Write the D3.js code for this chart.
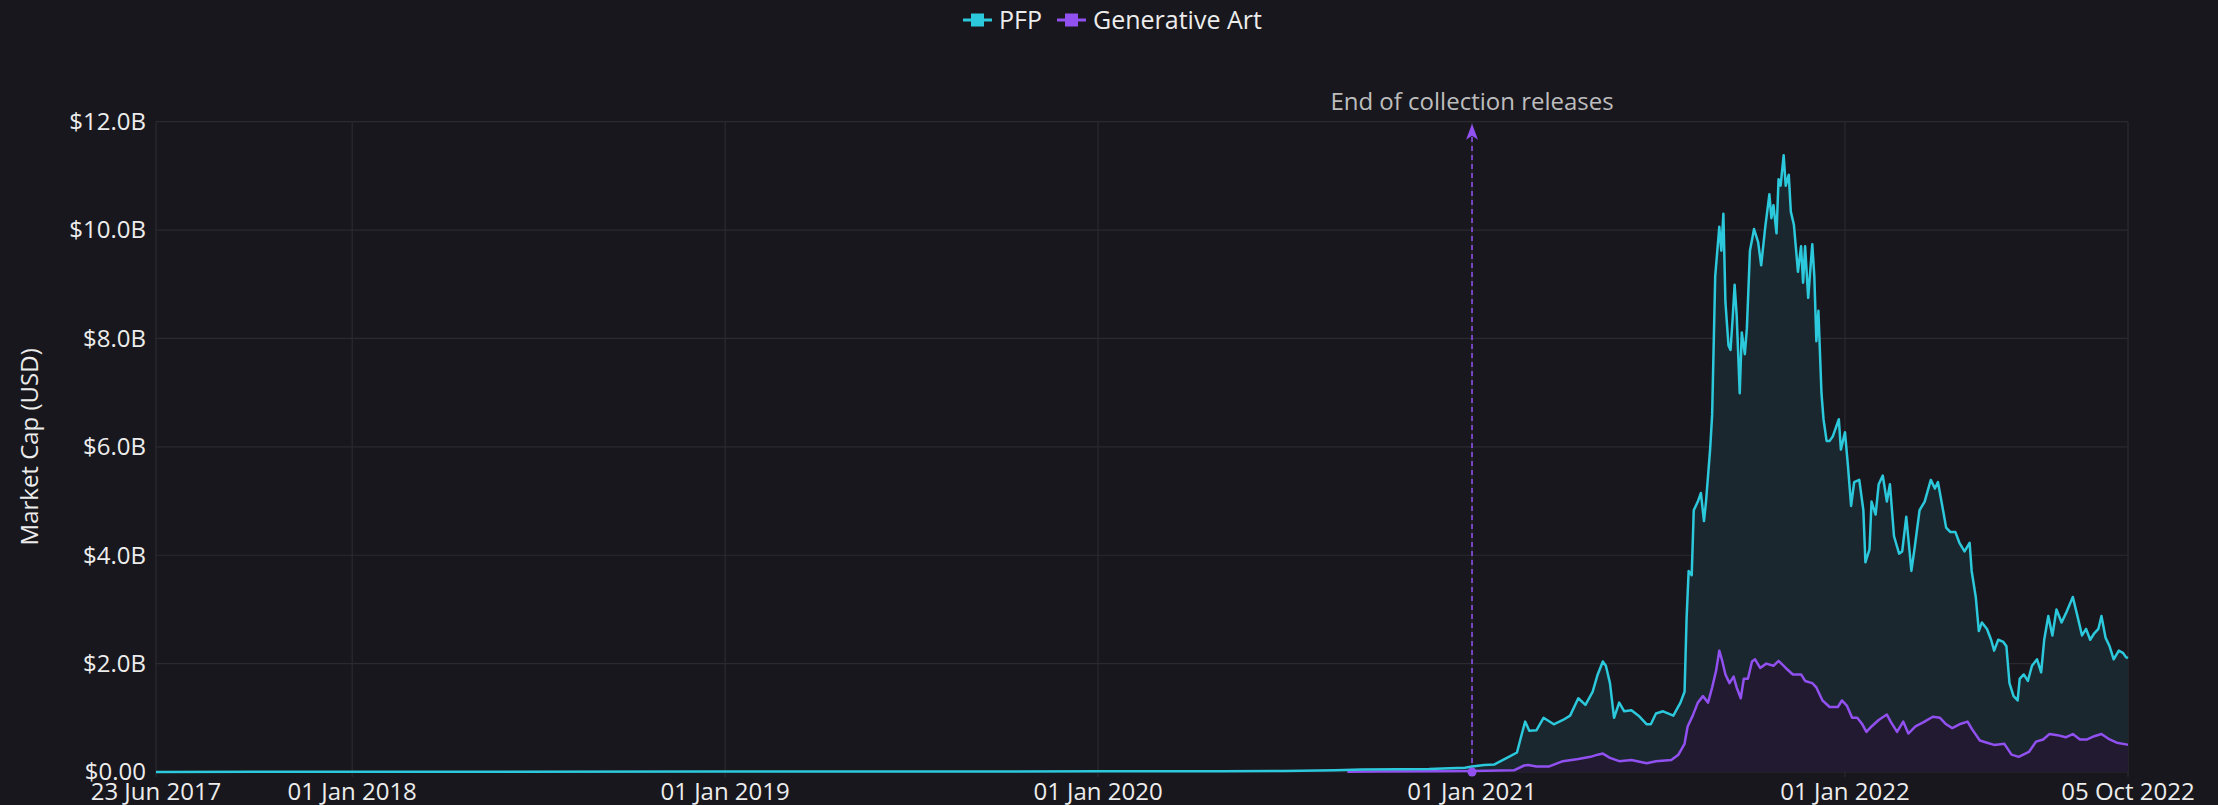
<!DOCTYPE html>
<html>
<head>
<meta charset="utf-8">
<script src="https://cdn.jsdelivr.net/npm/d3@7"></script>
<style>
  html, body { margin: 0; padding: 0; background: #18171d; }
  svg { display: block; font-family: "Open Sans", "Noto Sans", sans-serif; }
</style>
</head>
<body>
<svg id="chart" width="2218" height="805"></svg>
<script>
// ---------------- DATA ----------------
const seriesNames = ["PFP", "Generative Art"];

const pfpDates = [
  "2017-06-23","2017-12-01","2018-06-01","2019-01-01","2019-08-01","2020-01-01","2020-05-01","2020-07-01",
  "2020-08-20","2020-09-15","2020-10-20","2020-11-20","2020-12-10","2020-12-25",
  "2021-01-01","2021-01-13","2021-01-23","2021-01-29","2021-02-06","2021-02-14","2021-02-18","2021-02-22","2021-02-26",
  "2021-03-05","2021-03-12","2021-03-22","2021-03-31","2021-04-07","2021-04-15","2021-04-22","2021-04-29",
  "2021-05-04","2021-05-09","2021-05-12","2021-05-16","2021-05-20","2021-05-25","2021-05-30","2021-06-06",
  "2021-06-13","2021-06-21","2021-06-25","2021-06-30","2021-07-07","2021-07-17","2021-07-24","2021-07-28",
  "2021-07-30","2021-08-01","2021-08-04","2021-08-06","2021-08-10","2021-08-13","2021-08-16","2021-08-18",
  "2021-08-22","2021-08-24","2021-08-27","2021-08-31","2021-09-02","2021-09-04","2021-09-06","2021-09-09",
  "2021-09-11","2021-09-13","2021-09-15","2021-09-17","2021-09-20","2021-09-22","2021-09-25","2021-09-27",
  "2021-09-30","2021-10-04","2021-10-08","2021-10-11","2021-10-15","2021-10-19","2021-10-21","2021-10-23",
  "2021-10-26","2021-10-28","2021-10-30","2021-11-02","2021-11-04","2021-11-07","2021-11-09","2021-11-12",
  "2021-11-16","2021-11-19","2021-11-21","2021-11-23","2021-11-26","2021-11-30","2021-12-02","2021-12-04",
  "2021-12-06","2021-12-09","2021-12-11","2021-12-14","2021-12-17","2021-12-20","2021-12-26","2021-12-28",
  "2022-01-01","2022-01-04","2022-01-07","2022-01-10","2022-01-15","2022-01-19","2022-01-21","2022-01-25",
  "2022-01-27","2022-01-31","2022-02-03","2022-02-07","2022-02-11","2022-02-14","2022-02-18","2022-02-23",
  "2022-02-26","2022-03-02","2022-03-07","2022-03-10","2022-03-15","2022-03-20","2022-03-26","2022-03-30",
  "2022-04-02","2022-04-07","2022-04-10","2022-04-14","2022-04-19","2022-04-23","2022-04-28","2022-05-03",
  "2022-05-05","2022-05-09","2022-05-12","2022-05-15","2022-05-20","2022-05-24","2022-05-27","2022-05-31",
  "2022-06-05","2022-06-08","2022-06-11","2022-06-15","2022-06-19","2022-06-21","2022-06-25","2022-06-29",
  "2022-07-03","2022-07-08","2022-07-12","2022-07-15","2022-07-19","2022-07-23","2022-07-27","2022-08-01",
  "2022-08-06","2022-08-12","2022-08-17","2022-08-21","2022-08-25","2022-08-29","2022-09-02","2022-09-06",
  "2022-09-09","2022-09-13","2022-09-17","2022-09-21","2022-09-26","2022-09-30","2022-10-03","2022-10-05"
];
const pfpValues = [
  0.002,0.004,0.006,0.008,0.010,0.012,0.015,0.020,
  0.030,0.045,0.050,0.055,0.070,0.080,
  0.10,0.13,0.14,0.20,0.28,0.36,0.65,0.93,0.76,
  0.77,1.00,0.88,0.96,1.04,1.36,1.24,1.48,
  1.80,2.04,1.96,1.64,1.00,1.28,1.12,1.14,
  1.04,0.88,0.88,1.08,1.12,1.04,1.28,1.48,
  2.84,3.71,3.63,4.83,4.99,5.15,4.63,4.99,
  5.95,6.59,9.15,10.06,9.62,10.30,8.67,7.87,
  7.79,8.35,8.99,8.43,6.99,8.11,7.71,8.19,
  9.62,10.02,9.78,9.35,10.06,10.66,10.22,10.46,
  9.94,10.94,10.82,11.38,10.82,11.02,10.34,10.10,
  9.23,9.70,9.03,9.70,8.75,9.74,9.15,7.95,
  8.51,6.99,6.51,6.11,6.11,6.19,6.51,5.95,
  6.27,5.63,4.91,5.35,5.39,4.83,3.87,4.11,
  4.99,4.75,5.31,5.47,4.99,5.31,4.35,4.03,
  4.07,4.71,3.71,4.11,4.83,4.99,5.39,5.23,
  5.35,4.83,4.51,4.43,4.43,4.23,4.07,4.23,
  3.71,3.23,2.60,2.76,2.64,2.44,2.24,2.44,
  2.40,2.32,1.64,1.40,1.32,1.72,1.80,1.68,
  1.96,2.08,1.84,2.44,2.88,2.52,3.00,2.76,
  2.96,3.23,2.84,2.52,2.64,2.44,2.56,2.64,
  2.88,2.48,2.32,2.08,2.24,2.20,2.12,2.10
];

const genDates = [
  "2020-09-01","2020-10-01","2020-12-01",
  "2021-01-01","2021-02-11","2021-02-21","2021-02-25","2021-03-05","2021-03-17","2021-03-31","2021-04-15","2021-04-27",
  "2021-05-04","2021-05-09","2021-05-16","2021-05-25","2021-06-06","2021-06-21","2021-06-30","2021-07-15",
  "2021-07-22","2021-07-28","2021-07-31","2021-08-05","2021-08-10","2021-08-15","2021-08-20","2021-08-24",
  "2021-08-28","2021-08-31","2021-09-03","2021-09-06","2021-09-10","2021-09-14","2021-09-17","2021-09-21",
  "2021-09-24","2021-09-28","2021-10-02","2021-10-05","2021-10-10","2021-10-16","2021-10-23","2021-10-28",
  "2021-11-04","2021-11-11","2021-11-19","2021-11-23","2021-11-30","2021-12-04","2021-12-10","2021-12-17",
  "2021-12-25","2021-12-29","2022-01-03","2022-01-08","2022-01-13","2022-01-18","2022-01-22","2022-01-27",
  "2022-02-03","2022-02-11","2022-02-15","2022-02-21","2022-02-27","2022-03-04","2022-03-11","2022-03-19",
  "2022-03-28","2022-04-04","2022-04-10","2022-04-16","2022-04-23","2022-05-01","2022-05-05","2022-05-13",
  "2022-05-20","2022-05-27","2022-06-06","2022-06-13","2022-06-20","2022-06-30","2022-07-07","2022-07-14",
  "2022-07-20","2022-07-28","2022-08-05","2022-08-12","2022-08-19","2022-08-26","2022-09-02","2022-09-09",
  "2022-09-17","2022-09-24","2022-10-03","2022-10-05"
];
const genValues = [
  0.005,0.008,0.012,
  0.02,0.03,0.12,0.13,0.10,0.10,0.20,0.24,0.28,
  0.32,0.34,0.26,0.20,0.22,0.16,0.20,0.22,
  0.32,0.52,0.84,1.04,1.28,1.40,1.28,1.56,
  1.88,2.24,2.04,1.80,1.64,1.76,1.56,1.36,
  1.72,1.72,2.04,2.08,1.92,2.00,1.96,2.05,
  1.92,1.80,1.80,1.68,1.64,1.56,1.32,1.20,
  1.20,1.32,1.22,1.00,1.00,0.88,0.74,0.84,
  0.96,1.06,0.92,0.74,0.93,0.71,0.84,0.92,
  1.02,1.00,0.88,0.81,0.88,0.93,0.80,0.58,
  0.54,0.50,0.52,0.32,0.28,0.37,0.56,0.60,
  0.70,0.68,0.64,0.70,0.60,0.60,0.66,0.70,
  0.60,0.54,0.51,0.50
];

const xTickDates  = ["2017-06-23","2018-01-01","2019-01-01","2020-01-01","2021-01-01","2022-01-01","2022-10-05"];
const xTickLabels = ["23 Jun 2017","01 Jan 2018","01 Jan 2019","01 Jan 2020","01 Jan 2021","01 Jan 2022","05 Oct 2022"];
const yTicks      = [0, 2, 4, 6, 8, 10, 12];
const yTickLabels = ["$0.00","$2.0B","$4.0B","$6.0B","$8.0B","$10.0B","$12.0B"];

const annotationDate = "2021-01-01";
const annotationText = "End of collection releases";
const yAxisTitle = "Market Cap (USD)";

// ---------------- CHART ----------------
const W = 2218, H = 805;
const margin = { left: 156, right: 90, top: 121.7, bottom: 33 };
const colors = { pfp: "#2cc8dc", gen: "#9150f0", pfpFill: "#1b272e", genFill: "#221a30",
                 grid: "#2b2a31", text: "#ececec", annot: "#bdbdbd", bg: "#18171d" };

const parse = d3.utcParse("%Y-%m-%d");
const pfp = pfpDates.map((d, i) => ({ date: parse(d), v: pfpValues[i] }));
const gen = genDates.map((d, i) => ({ date: parse(d), v: genValues[i] }));

const x = d3.scaleUtc()
  .domain([parse(xTickDates[0]), parse(xTickDates[xTickDates.length - 1])])
  .range([margin.left, W - margin.right]);
const y = d3.scaleLinear().domain([0, 12]).range([H - margin.bottom, margin.top]);

const svg = d3.select("#chart");
svg.append("rect").attr("width", W).attr("height", H).attr("fill", colors.bg);

// horizontal grid
svg.append("g").selectAll("line").data(yTicks).join("line")
  .attr("x1", x.range()[0]).attr("x2", x.range()[1])
  .attr("y1", d => y(d)).attr("y2", d => y(d))
  .attr("stroke", colors.grid).attr("stroke-width", 1.2);

// vertical grid + ticks
svg.append("g").selectAll("line").data(xTickDates).join("line")
  .attr("x1", d => x(parse(d))).attr("x2", d => x(parse(d)))
  .attr("y1", y(12)).attr("y2", y(0) + 5)
  .attr("stroke", colors.grid).attr("stroke-width", 1.2);

// areas
const area = d3.area().x(d => x(d.date)).y0(y(0)).y1(d => y(d.v));
const line = d3.line().x(d => x(d.date)).y(d => y(d.v));

svg.append("path").datum(pfp).attr("d", area).attr("fill", colors.pfpFill);
svg.append("path").datum(gen).attr("d", area).attr("fill", colors.genFill);

// annotation line
const ax = x(parse(annotationDate));
svg.append("line")
  .attr("x1", ax).attr("x2", ax).attr("y1", y(0)).attr("y2", y(12) + 12)
  .attr("stroke", colors.gen).attr("stroke-width", 1.5).attr("stroke-dasharray", "5,4");

// series lines
svg.append("path").datum(gen).attr("d", line)
  .attr("fill", "none").attr("stroke", colors.gen).attr("stroke-width", 2.5).attr("stroke-linejoin", "round");
svg.append("path").datum(pfp).attr("d", line)
  .attr("fill", "none").attr("stroke", colors.pfp).attr("stroke-width", 2.5).attr("stroke-linejoin", "round");

// annotation arrow head and dot
const tipY = y(12) + 2;
svg.append("path")
  .attr("d", `M${ax},${tipY} L${ax - 6},${tipY + 16} L${ax},${tipY + 12} L${ax + 6},${tipY + 16} Z`)
  .attr("fill", colors.gen);
svg.append("circle").attr("cx", ax).attr("cy", y(0)).attr("r", 4.5).attr("fill", colors.gen);
svg.append("text")
  .attr("x", ax).attr("y", 110)
  .attr("text-anchor", "middle").attr("fill", colors.annot)
  .attr("font-size", 24).text(annotationText);

// y labels
svg.append("g").selectAll("text").data(yTicks).join("text")
  .attr("x", margin.left - 10).attr("y", d => y(d)).attr("dy", "0.35em")
  .attr("text-anchor", "end").attr("fill", colors.text).attr("font-size", 24)
  .text((d, i) => yTickLabels[i]);

// x labels
svg.append("g").selectAll("text").data(xTickDates).join("text")
  .attr("x", d => x(parse(d))).attr("y", 800)
  .attr("text-anchor", "middle").attr("fill", colors.text).attr("font-size", 24)
  .text((d, i) => xTickLabels[i]);

// y axis title
svg.append("text")
  .attr("transform", `translate(38,${(y(0) + y(12)) / 2}) rotate(-90)`)
  .attr("text-anchor", "middle").attr("fill", colors.text).attr("font-size", 24)
  .text(yAxisTitle);

// legend
const legend = [
  { name: seriesNames[0], color: colors.pfp, x: 963 },
  { name: seriesNames[1], color: colors.gen, x: 1057 }
];
const lg = svg.append("g");
legend.forEach(l => {
  lg.append("line").attr("x1", l.x).attr("x2", l.x + 29).attr("y1", 20).attr("y2", 20)
    .attr("stroke", l.color).attr("stroke-width", 3);
  lg.append("rect").attr("x", l.x + 8).attr("y", 13.5).attr("width", 13).attr("height", 13).attr("fill", l.color);
  lg.append("text").attr("x", l.x + 36).attr("y", 20).attr("dy", "0.35em")
    .attr("fill", colors.text).attr("font-size", 25).text(l.name);
});
</script>
</body>
</html>
